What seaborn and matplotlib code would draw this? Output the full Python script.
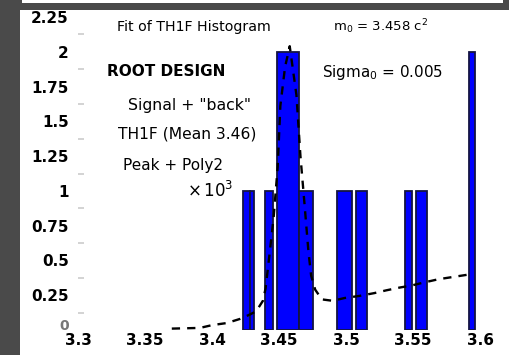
import matplotlib
matplotlib.use("Agg")
import matplotlib.pyplot as plt
import matplotlib.transforms as mtransforms
import seaborn as sns
import numpy as np
from matplotlib.patches import Rectangle
from matplotlib.ticker import MultipleLocator

# ---- data ----
bin_edges = [3.30, 3.4231, 3.4285, 3.4313, 3.4396, 3.4455, 3.4485, 3.4649, 3.4754,
             3.4933, 3.5045, 3.5075, 3.5157, 3.5440, 3.5493, 3.5522, 3.5604,
             3.5918, 3.5963, 3.60]
bin_counts = [0, 1, 1, 0, 1, 0, 2, 1, 0, 1, 0, 1, 0, 1, 0, 1, 0, 2, 0]

line_x = [3.370, 3.391, 3.400, 3.411, 3.421, 3.428, 3.433, 3.436, 3.438, 3.440,
          3.443, 3.446, 3.449, 3.451, 3.4545, 3.458, 3.463, 3.466, 3.469, 3.472,
          3.474, 3.477, 3.482, 3.490, 3.499, 3.510, 3.521, 3.530, 3.540, 3.549,
          3.5575, 3.569, 3.579, 3.5925]
line_y = [0.01, 0.015, 0.035, 0.05, 0.08, 0.11, 0.135, 0.18, 0.21, 0.30,
          0.55, 0.81, 1.17, 1.61, 1.89, 2.04, 1.69, 1.25, 0.91, 0.56,
          0.39, 0.29, 0.22, 0.21, 0.23, 0.245, 0.265, 0.285, 0.305, 0.32,
          0.34, 0.365, 0.38, 0.40]

x_ticks = [3.3, 3.35, 3.4, 3.45, 3.5, 3.55, 3.6]
x_tick_labels = ["3.3", "3.35", "3.4", "3.45", "3.5", "3.55", "3.6"]
y_ticks = [0, 0.25, 0.5, 0.75, 1, 1.25, 1.5, 1.75, 2, 2.25]
y_tick_labels = ["0", "0.25", "0.5", "0.75", "1", "1.25", "1.5", "1.75", "2", "2.25"]

text_left = ["Fit of TH1F Histogram", "ROOT DESIGN", 'Signal + "back"',
             "TH1F (Mean 3.46)", "Peak + Poly2", r"$\times\,10^{3}$"]
text_right = [r"m$_{0}$ = 3.458 c$^{2}$", r"Sigma$_{0}$ = 0.005"]

# ---- figure ----
sns.set_theme(style="white")
plt.rcParams['font.family'] = ['DejaVu Sans']
plt.rcParams['text.color'] = 'black'
W, H = 510, 355
fig = plt.figure(figsize=(W / 100, H / 100), dpi=100, facecolor="white")

def fx(px):
    return px / W

def fy(py):
    return 1 - py / H

# frame decoration (dark border at left/top)
gray = "#4a4a4a"
fig.patches.append(Rectangle((0, 0), fx(20), 1, transform=fig.transFigure,
                             facecolor=gray, edgecolor="none", zorder=0))
fig.patches.append(Rectangle((0, fy(10)), 1, 10 / H, transform=fig.transFigure,
                             facecolor=gray, edgecolor="none", zorder=0))
fig.patches.append(Rectangle((fx(22), fy(3)), fx(481), 3 / H, transform=fig.transFigure,
                             facecolor="white", edgecolor="none", zorder=1))

ax = fig.add_axes([fx(78), fy(330), fx(480 - 78), (330 - 17) / H])
ax.set_facecolor("none")

centers = [(bin_edges[i] + bin_edges[i + 1]) / 2 for i in range(len(bin_counts))]
sns.histplot(x=centers, weights=bin_counts, bins=bin_edges, stat="count",
             color="#0000ff", alpha=1.0, edgecolor="#141442", linewidth=1.3, ax=ax)
for p in ax.patches:
    if p.get_height() == 0:
        p.set_visible(False)

sns.lineplot(x=line_x, y=line_y, color="black", linestyle=(0, (3.5, 3)),
             linewidth=1.7, ax=ax, zorder=5)

ax.set_xlim(3.3, 3.6)
ax.set_ylim(0, 2.25)
ax.set_xticks(x_ticks)
ax.set_xticklabels(x_tick_labels, fontweight="bold")
ax.set_yticks(y_ticks)
ax.set_yticklabels(y_tick_labels, fontweight="bold")
ax.yaxis.set_minor_locator(MultipleLocator(0.125))
ax.tick_params(axis="x", length=0, pad=2.5, labelsize=11, labelcolor="black")
ax.tick_params(axis="y", which="major", direction="in", length=6, width=1.5,
               color="#bbbbbb", pad=6.5, labelsize=11, labelcolor="black")
ax.tick_params(axis="y", which="minor", direction="in", length=4, width=1.2,
               color="#cccccc", left=True)
ax.set_xlabel("")
ax.set_ylabel("")
for s in ax.spines.values():
    s.set_visible(False)

# the "0" label sits a bit higher and lighter, clear of the "3.3" label
zero_lbl = ax.get_yticklabels()[0]
zero_lbl.set_color("#777777")
zero_lbl.set_fontsize(10)
zero_lbl.set_transform(zero_lbl.get_transform() +
                       mtransforms.ScaledTranslation(0, 6 / 100, fig.dpi_scale_trans))

# annotations
fig.text(fx(117), fy(27), text_left[0], fontsize=10.2, va="center", ha="left", color="black")
fig.text(fx(333), fy(27), text_right[0], fontsize=9.5, va="center", ha="left", color="black")
fig.text(fx(107), fy(72), text_left[1], fontsize=11, fontweight="bold", va="center", ha="left", color="black")
fig.text(fx(322), fy(72), text_right[1], fontsize=10.9, va="center", ha="left", color="black")
fig.text(fx(128), fy(105), text_left[2], fontsize=11.3, va="center", ha="left", color="black")
fig.text(fx(118), fy(134), text_left[3], fontsize=11.2, va="center", ha="left", color="black")
fig.text(fx(123), fy(165), text_left[4], fontsize=11, va="center", ha="left", color="black")
fig.text(fx(187), fy(191), text_left[5], fontsize=12, va="center", ha="left", color="black")

fig.savefig("out.png", dpi=100, facecolor=fig.get_facecolor())
